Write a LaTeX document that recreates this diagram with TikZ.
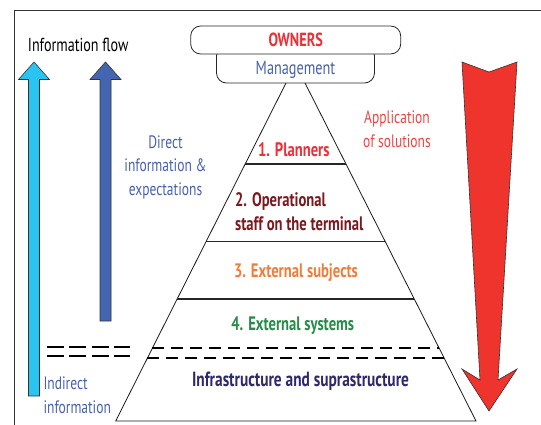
\documentclass[tikz,border=0pt]{standalone}
\usepackage{fontspec}
\setmainfont{PT Sans}[FakeStretch=0.75]
\usepackage{xcolor}
\usepackage{tikz}
\usetikzlibrary{calc}

\definecolor{ownred}{RGB}{236,48,54}
\definecolor{appred}{RGB}{240,68,68}
\definecolor{staffred}{RGB}{122,26,32}
\definecolor{subjorange}{RGB}{242,124,58}
\definecolor{sysgreen}{RGB}{38,140,72}
\definecolor{infranavy}{RGB}{46,40,110}
\definecolor{infoblue}{RGB}{72,96,174}
\definecolor{flowcyan}{RGB}{42,196,240}
\definecolor{flowblue}{RGB}{68,102,176}
\definecolor{solred}{RGB}{238,52,44}

\begin{document}
\begin{tikzpicture}[
  x=1pt, y=-1pt,
  pill/.style={draw=black!85, rounded corners=10pt, fill=white, line width=0.8pt},
  lbl/.style={font=\bfseries\fontsize{19.5}{23.3}\selectfont},
  note/.style={font=\fontsize{18}{23.5}\selectfont},
  side/.style={line width=0.8pt, draw=black!90},
  tier/.style={line width=1.6pt, draw=black!85},
  cut/.style={line width=1.6pt, dash pattern=on 12pt off 7pt},
  flowarrow/.style={draw=black!80, line width=0.6pt}
]
  \useasboundingbox (0,0) rectangle (541,425);

  % frame
  \draw[line width=0.6pt, black!80] (14.5,425) -- (14.5,10.5) -- (541,10.5);

  % owners and management
  \node[pill, minimum width=158pt, text height=27pt, text depth=6pt, inner ysep=2pt,
    anchor=base, text=infoblue, font=\fontsize{19}{23}\selectfont] (mgmt) at (295.5,75) {Management};
  \node[pill, minimum width=210pt, minimum height=28pt, text=ownred,
    font=\bfseries\fontsize{19}{23}\selectfont] (owners) at (295.7,40) {OWNERS};

  % pyramid
  \coordinate (tl) at (286,83);
  \coordinate (tr) at (305,83);
  \coordinate (bl) at (115.7,421);
  \coordinate (br) at (476,421);
  \draw[side] (tl) -- (bl) -- (br) -- (tr);
  \foreach \h in {164,241.7,299}
    \draw[tier] ($(tl)!{(\h-83)/338}!(bl)$) -- ($(tr)!{(\h-83)/338}!(br)$);
  \foreach \h in {348,358}
    \draw[cut] ($(tl)!{(\h-83)/338}!(bl)$) -- ($(tr)!{(\h-83)/338}!(br)$);

  \node[lbl, text=ownred, anchor=base] (plan) at (293.8,156.7) {1. Planners};
  \node[lbl, text=staffred, anchor=base west, align=left, inner xsep=0pt] (staff) at (235,230)
    {2. Operational\\staff on the terminal};
  \node[lbl, text=subjorange, anchor=base] (subj) at (296,277) {3. External subjects};
  \node[lbl, text=sysgreen, anchor=base] (sys) at (292.8,330) {4. External systems};
  \node[lbl, text=infranavy, anchor=base, font=\bfseries\fontsize{20.5}{23}\selectfont] (infra)
    at (300.5,386) {Infrastructure and suprastructure};

  % information flow
  \node[note, anchor=base west, inner sep=0pt, font=\fontsize{18.8}{23}\selectfont] (flow)
    at (27.7,52) {Information flow};
  \foreach \x/\b/\c in {34/396/flowcyan, 105.5/321/flowblue}
    \filldraw[flowarrow, fill=\c] (\x-5.5,\b) -- (\x-5.5,79.5) -- (\x-15.5,79.5) -- (\x,62)
      -- (\x+15.5,79.5) -- (\x+5.5,79.5) -- (\x+5.5,\b) -- cycle;
  \foreach \h in {347.3,356}
    \draw[line width=1.8pt, dash pattern=on 17pt off 5.5pt] (46.7,\h) -- (130,\h);

  \node[note, text=infoblue, align=center] (direct) at (165.5,167)
    {Direct\\information \&\\expectations};
  \node[note, text=infoblue, align=left, anchor=base west, inner sep=0pt] (indirect) at (43.3,413.3)
    {Indirect\\information};

  % application of solutions
  \node[note, text=appred, align=center] (apply) at (397,129) {Application\\of solutions};
  \filldraw[draw=black!80, line width=0.6pt, fill=solred] (462,62) -- (489,72) -- (517,62)
    -- (498,380) -- (517,369) -- (489,411) -- (462,369) -- (480,380) -- cycle;
\end{tikzpicture}
\end{document}
